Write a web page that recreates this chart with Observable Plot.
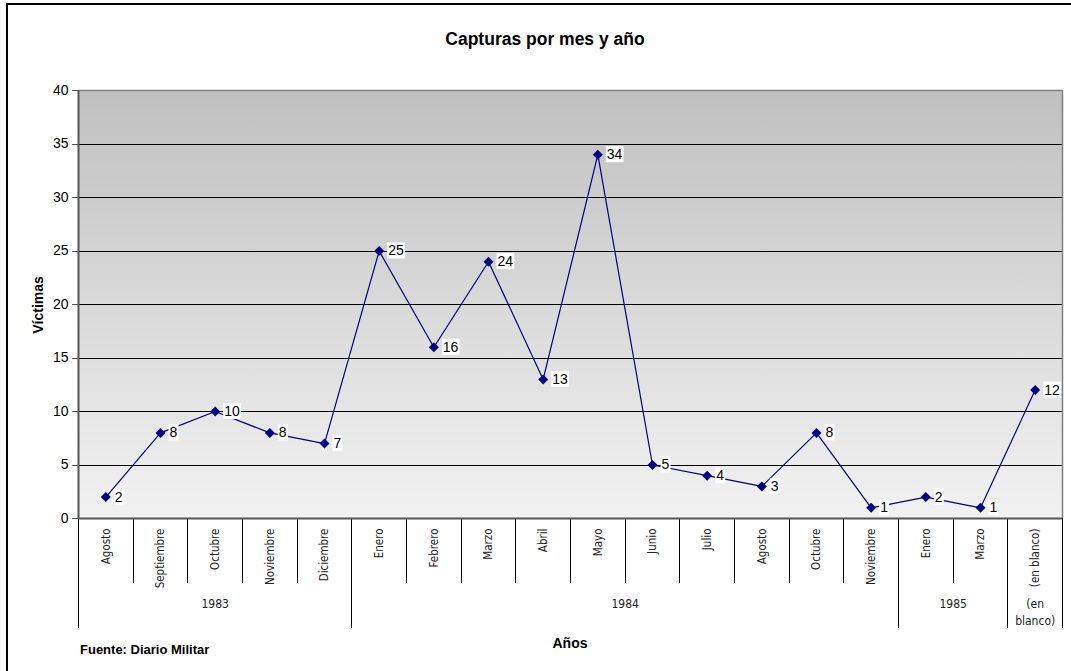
<!DOCTYPE html>
<html>
<head>
<meta charset="utf-8">
<script src="https://cdn.jsdelivr.net/npm/d3@7"></script>
<script src="https://cdn.jsdelivr.net/npm/@observablehq/plot@0.6"></script>
<style>
  body { margin: 0; background: #fff; }
  #wrap { position: relative; width: 1071px; height: 671px; overflow: hidden; font-family: "Liberation Sans", Arial, sans-serif; }
  #border { position: absolute; left: 6px; top: 3px; width: 1200px; height: 800px; border-left: 2px solid #000; border-top: 2px solid #000; box-sizing: border-box; }
  #chart { position: absolute; left: 0; top: 0; }
  .t { position: absolute; font-weight: bold; color: #000; white-space: nowrap; line-height: 1; }
  #title { left: 0; width: 1090px; text-align: center; top: 31px; font-size: 17.5px; }
  #ylab { left: 38px; top: 305px; font-size: 14px; transform: translate(-50%, -50%) rotate(-90deg); }
  #xlab { left: 570px; top: 643px; font-size: 14px; transform: translate(-50%, -50%); }
  #source { left: 80px; top: 643px; font-size: 13px; }
</style>
</head>
<body>
<div id="wrap">
  <div id="border"></div>
  <div id="chart"></div>
  <div class="t" id="title">Capturas por mes y año</div>
  <div class="t" id="ylab">Víctimas</div>
  <div class="t" id="xlab">Años</div>
  <div class="t" id="source">Fuente: Diario Militar</div>
</div>
<script>
const months = ["Agosto","Septiembre","Octubre","Noviembre","Diciembre","Enero","Febrero","Marzo","Abril","Mayo","Junio","Julio","Agosto","Octubre","Noviembre","Enero","Marzo","(en blanco)"];
const years  = ["1983","1983","1983","1983","1983","1984","1984","1984","1984","1984","1984","1984","1984","1984","1984","1985","1985","(en\nblanco)"];
const values = [2, 8, 10, 8, 7, 25, 16, 24, 13, 34, 5, 4, 3, 8, 1, 2, 1, 12];
const yTicks = [0, 5, 10, 15, 20, 25, 30, 35, 40];

const data = months.map((m, i) => ({pos: i + 0.5, month: m, year: years[i], value: values[i]}));

// year groups
const groups = [];
years.forEach((y, i) => {
  const g = groups[groups.length - 1];
  if (g && g.label === y) g.end = i + 1;
  else groups.push({label: y, start: i, end: i + 1});
});
groups.forEach(g => g.mid = (g.start + g.end) / 2);
const yearBounds = [0, ...groups.map(g => g.end)];
const monthBounds = d3.range(0, months.length + 1);

const font = '"Liberation Sans", Arial, sans-serif';
const narrow = '"DejaVu Sans Condensed", "Liberation Sans", Arial, sans-serif';

const defs = () => {
  const d = d3.create("svg:defs");
  const lg = d.append("linearGradient").attr("id", "bg").attr("x1", 0).attr("y1", 0).attr("x2", 0).attr("y2", 1);
  lg.append("stop").attr("offset", "0%").attr("stop-color", "#c0c0c0");
  lg.append("stop").attr("offset", "100%").attr("stop-color", "#f2f2f2");
  return d.node();
};

const chart = Plot.plot({
  width: 1071,
  height: 671,
  marginLeft: 78,
  marginRight: 9,
  marginTop: 90,
  marginBottom: 153,
  style: {fontFamily: font, fontSize: "13px", background: "transparent", overflow: "visible", color: "#000"},
  x: {domain: [0, months.length], axis: null},
  y: {domain: [0, 40], axis: null},
  marks: [
    defs,
    Plot.frame({fill: "url(#bg)", stroke: null}),
    Plot.gridY(yTicks.slice(1, -1), {stroke: "#000", strokeOpacity: 1, strokeWidth: 1, shapeRendering: "crispEdges"}),
    Plot.ruleY([40], {stroke: "#808080", strokeWidth: 1.5}),
    Plot.ruleX([months.length], {stroke: "#808080", strokeWidth: 1.5}),
    Plot.axisY(yTicks, {label: null, tickSize: 6, tickPadding: 4, fontSize: 14, stroke: "#555", fill: "#000", shapeRendering: "crispEdges"}),
    Plot.axisX(monthBounds, {label: null, tickSize: 65, tickPadding: 0, tickFormat: () => "", stroke: "#000", shapeRendering: "crispEdges"}),
    Plot.axisX(yearBounds, {label: null, tickSize: 110, tickPadding: 0, tickFormat: () => "", stroke: "#000", shapeRendering: "crispEdges"}),
    Plot.text(data, {x: "pos", y: 0, text: "month", rotate: -90, textAnchor: "end", lineAnchor: "middle", dy: 10, fontSize: 11.5, fontFamily: narrow, fill: "#222"}),
    Plot.text(groups, {x: "mid", y: 0, text: "label", lineAnchor: "top", dy: 78, fontSize: 12, lineHeight: 1.4, fontFamily: narrow, fill: "#222"}),
    Plot.ruleY([0], {stroke: "#555", strokeWidth: 2}),
    Plot.ruleX([0], {stroke: "#555", strokeWidth: 2}),
    Plot.line(data, {x: "pos", y: "value", stroke: "#000080", strokeWidth: 1.2}),
    Plot.dot(data, {x: "pos", y: "value", symbol: "diamond2", fill: "#000080", stroke: null, r: 4.5}),
    Plot.text(data, {x: "pos", y: "value", text: d => String(d.value), dx: 9, textAnchor: "start", fontSize: 14, fill: "#000"})
  ]
});

document.getElementById("chart").appendChild(chart);

// white boxes behind value labels (the last text mark)
const textGroups = chart.querySelectorAll('g[aria-label="text"]');
const labelGroup = textGroups[textGroups.length - 1];
d3.select(labelGroup).selectAll("text").each(function () {
  const b = this.getBBox();
  const r = document.createElementNS("http://www.w3.org/2000/svg", "rect");
  r.setAttribute("x", b.x - 1);
  r.setAttribute("y", b.y);
  r.setAttribute("width", b.width + 2);
  r.setAttribute("height", b.height);
  r.setAttribute("fill", "#fff");
  const tr = this.getAttribute("transform");
  if (tr) r.setAttribute("transform", tr);
  this.parentNode.insertBefore(r, this);
});
</script>
</body>
</html>
